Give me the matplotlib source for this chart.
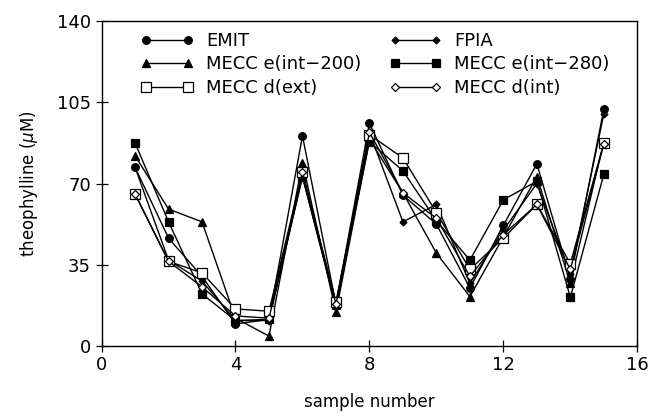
import matplotlib
matplotlib.use("Agg")
import matplotlib.pyplot as plt

samples = list(range(1, 16))
emit     = [77, 46.5, 30, 9.5, 11.5, 90.5, 18, 96, 65, 52.5, 25, 52, 78.5, 29, 102]
fpia     = [77, 37, 28, 11, 11, 73, 17, 92, 53.5, 61, 27, 50, 70, 31, 100]
e_int200 = [82, 59, 53.5, 12, 4.3, 79, 14.5, 89, 66, 40, 21.3, 47, 73, 27, 88]
e_int280 = [87.5, 53.5, 22.5, 11, 11.5, 73, 17.5, 88, 75.5, 54, 37, 63, 71, 21, 74]
d_ext    = [65.5, 36.5, 31.5, 16, 15, 75, 19, 91, 81, 57.5, 33, 46.5, 61, 35.5, 87.5]
d_int    = [65.5, 36.5, 25.5, 13, 12, 75, 18, 92, 66, 55, 30, 48, 61, 33, 87]

labels = ["EMIT", "FPIA", "MECC e(int\u2212200)", "MECC e(int\u2212280)",
          "MECC d(ext)", "MECC d(int)"]
xticks = [0, 4, 8, 12, 16]
yticks = [0, 35, 70, 105, 140]

plt.rcParams['font.family'] = ['DejaVu Sans']

fig = plt.figure(figsize=(6.51, 4.2), dpi=100)
ax = fig.add_axes([0.156, 0.176, 0.823, 0.774])

styles = [
    dict(marker='o', ms=5.5, mfc='black'),
    dict(marker='D', ms=3.5, mfc='black'),
    dict(marker='^', ms=5.5, mfc='black'),
    dict(marker='s', ms=5.5, mfc='black'),
    dict(marker='s', ms=6.5, mfc='white'),
    dict(marker='D', ms=4.0, mfc='white'),
]
series = [emit, fpia, e_int200, e_int280, d_ext, d_int]
handles = []
for vals, lab, st in zip(series, labels, styles):
    h, = ax.plot(samples, vals, color='black', lw=1.0, mec='black', mew=0.9,
                 label=lab, **st)
    handles.append(h)

ax.set_xlim(0, 16)
ax.set_ylim(0, 140)
ax.set_xticks(xticks)
ax.set_yticks(yticks)
ax.tick_params(direction='inout', length=8, width=0.9, labelsize=13,
               top=False, right=False)
for s in ax.spines.values():
    s.set_linewidth(1.0)

ax.set_xlabel("sample number", fontsize=12, labelpad=13)
ax.set_ylabel(r"theophylline ($\mu$M)", fontsize=12, labelpad=12)

order = [0, 2, 4, 1, 3, 5]
leg = ax.legend([handles[i] for i in order], [labels[i] for i in order],
                ncol=2, loc='upper left', bbox_to_anchor=(0.05, 1.005),
                frameon=False, numpoints=2, handlelength=2.9,
                fontsize=13, columnspacing=1.55, labelspacing=0.3,
                handletextpad=0.7, borderpad=0.2)

fig.savefig("out.png", dpi=100)
